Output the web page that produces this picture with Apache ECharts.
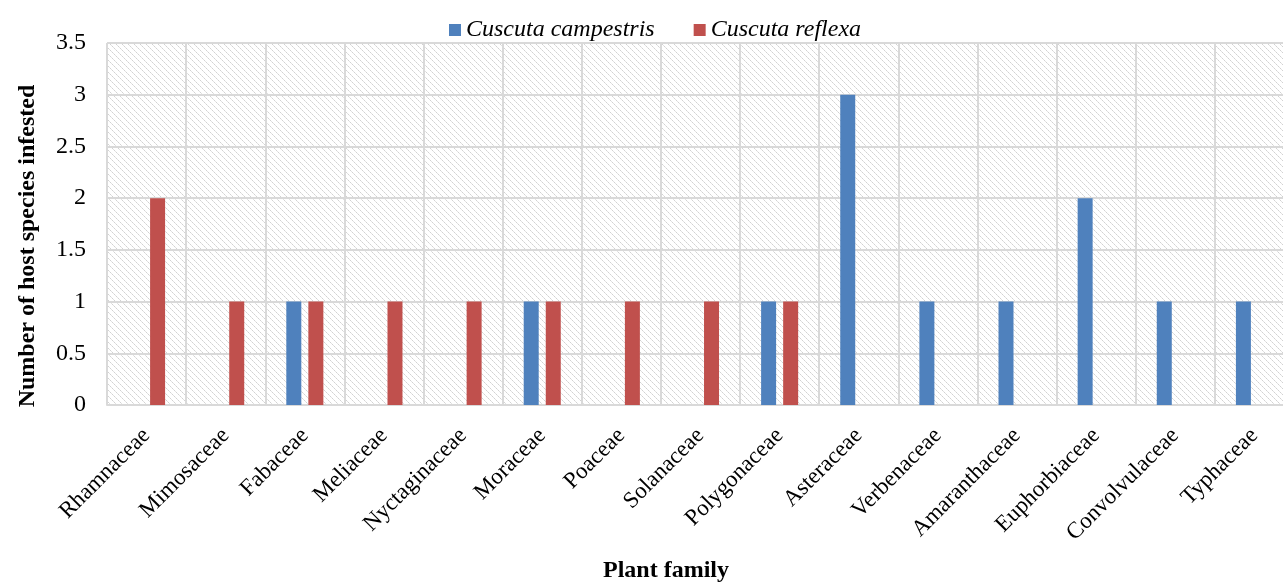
<!DOCTYPE html>
<html>
<head>
<meta charset="utf-8">
<script src="https://cdn.jsdelivr.net/npm/echarts@6/dist/echarts.min.js"></script>
<style>
html,body{margin:0;padding:0;background:#fff;}
#chart{width:1283px;height:582px;}
</style>
</head>
<body>
<div id="chart"></div>
<script>
const families = ['Rhamnaceae','Mimosaceae','Fabaceae','Meliaceae','Nyctaginaceae','Moraceae','Poaceae','Solanaceae','Polygonaceae','Asteraceae','Verbenaceae','Amaranthaceae','Euphorbiaceae','Convolvulaceae','Typhaceae'];
const campestris = [0,0,1,0,0,1,0,0,1,3,1,1,2,1,1];
const reflexa    = [2,1,1,1,1,1,1,1,1,0,0,0,0,0,0];
const seriesNames = ['Cuscuta campestris','Cuscuta reflexa'];
const yTicks = [0,0.5,1,1.5,2,2.5,3,3.5];

// hatch pattern (dashed diagonal lines)
const pc = document.createElement('canvas');
pc.width = 6; pc.height = 6;
const pctx = pc.getContext('2d');
pctx.fillStyle = '#ffffff';
pctx.fillRect(0,0,6,6);
for (let i = 0; i < 6; i++) {
  pctx.fillStyle = (i % 2 === 0) ? '#d2d2d2' : '#e2e2e2';
  pctx.fillRect(i, i, 1, 1);
}

const font = '"Liberation Serif","Times New Roman",serif';
const chart = echarts.init(document.getElementById('chart'));
chart.setOption({
  animation: false,
  textStyle: { fontFamily: font },
  legend: {
    top: 13,
    left: 444,
    itemWidth: 12,
    itemHeight: 12,
    itemGap: 39,
    icon: 'rect',
    textStyle: { fontFamily: font, fontSize: 24, fontStyle: 'italic', color: '#000' },
    data: seriesNames
  },
  grid: {
    left: 107, top: 43, width: 1187, height: 362,
    outerBoundsMode: 'none',
    containLabel: false,
    show: true, borderWidth: 0,
    backgroundColor: { image: pc, repeat: 'repeat' }
  },
  xAxis: {
    type: 'category',
    data: families,
    boundaryGap: true,
    axisLine: { show: true, lineStyle: { color: '#d9d9d9', width: 2 } },
    axisTick: { show: false },
    splitLine: { show: true, interval: 0, lineStyle: { color: '#d9d9d9', width: 2 } },
    axisLabel: { interval: 0, rotate: 45, margin: 27, fontFamily: font, fontSize: 23, color: '#000' }
  },
  yAxis: {
    type: 'value',
    min: 0, max: 3.5, interval: 0.5,
    axisLine: { show: false },
    axisTick: { show: false },
    splitLine: { show: true, lineStyle: { color: '#d9d9d9', width: 2 } },
    axisLabel: { margin: 21, fontFamily: font, fontSize: 24, color: '#000',
      formatter: v => String(yTicks.find(t => Math.abs(t - v) < 1e-9) ?? v) }
  },
  series: [
    { name: seriesNames[0], type: 'bar', data: campestris, barWidth: 15, barGap: '47%', itemStyle: { color: '#4f81bd' } },
    { name: seriesNames[1], type: 'bar', data: reflexa, barWidth: 15, barGap: '47%', itemStyle: { color: '#c0504d' } }
  ],
  graphic: [{
    type: 'text', x: 666, y: 571,
    style: { text: 'Plant family', font: 'bold 24px ' + font, fill: '#000', align: 'center', verticalAlign: 'middle' }
  }, {
    type: 'text', x: 28, y: 246, rotation: Math.PI / 2,
    style: { text: 'Number of host species infested', font: 'bold 24px ' + font, fill: '#000', align: 'center', verticalAlign: 'middle' }
  }]
});
</script>
</body>
</html>
